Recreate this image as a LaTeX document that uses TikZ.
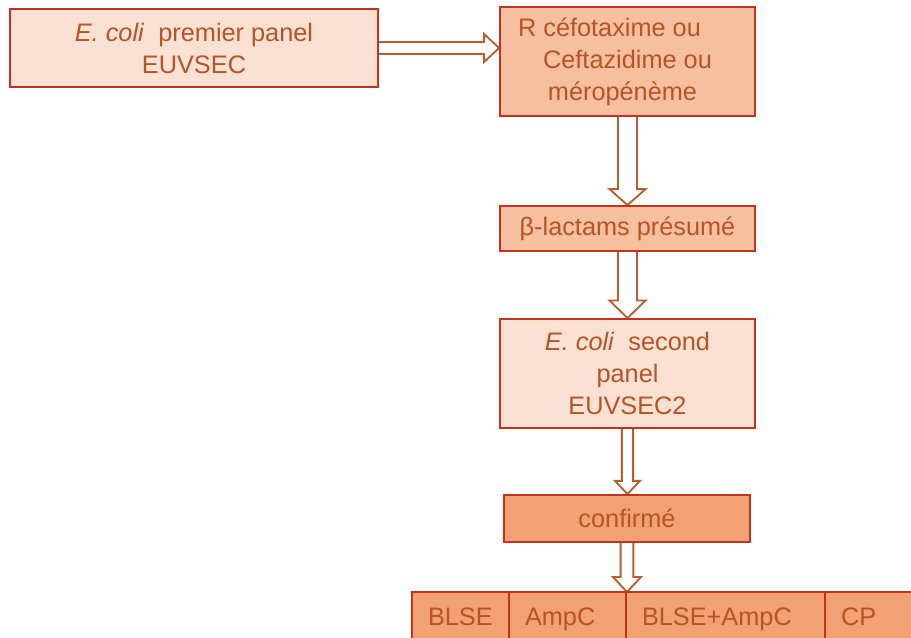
\documentclass[tikz,border=0pt]{standalone}
\usepackage{fontspec}
\setmainfont{Liberation Sans}
\usetikzlibrary{calc,backgrounds}
\definecolor{boxred}{HTML}{C4321F}
\definecolor{textbrown}{HTML}{B65523}
\definecolor{arrowbrown}{HTML}{BE5B2A}
\definecolor{paleorange}{HTML}{FBE0D4}
\definecolor{midorange}{HTML}{F6BFA0}
\definecolor{darkorange}{HTML}{F1A173}

\tikzset{
  panel/.style={draw=boxred, line width=1.3pt, text=textbrown, align=center,
    inner sep=0pt, font=\fontsize{18}{22.8}\selectfont},
  hollow/.style={draw=arrowbrown, fill=white, line width=1.3pt, line join=miter},
  cell/.style={panel, fill=darkorange, minimum height=1.2cm, anchor=north west,
    align=left, inner xsep=0.4cm, outer sep=0pt, text height=12.9pt, text depth=0pt}
}

\newcommand{\flowdown}[5]{%
  \draw[hollow] let \p1=(#1.south), \p2=(#2.north) in
    (\x1-#3,\y1) -- (\x1-#3,\y2+#5) -- (\x1-#4,\y2+#5) -- (\x1,\y2)
    -- (\x1+#4,\y2+#5) -- (\x1+#3,\y2+#5) -- (\x1+#3,\y1);}
\newcommand{\flowright}[5]{%
  \draw[hollow] let \p1=(#1.east), \p2=(#2.west) in
    (\x1,\y1+#3) -- (\x2-#5,\y1+#3) -- (\x2-#5,\y1+#4) -- (\x2,\y1)
    -- (\x2-#5,\y1-#4) -- (\x2-#5,\y1-#3) -- (\x1,\y1-#3);}

\begin{document}
\begin{tikzpicture}
  \useasboundingbox (0,0) rectangle (22.775,-15.925);
  \node[panel, fill=paleorange, minimum width=9.2cm, minimum height=1.95cm] (panel1) at (4.85,-1.2)
    {\textit{E. coli}\ \ premier panel\\EUVSEC};
  \node[panel, fill=midorange, minimum width=6.375cm, minimum height=2.725cm] (resist) at (15.6875,-1.5375)
    {R céfotaxime ou\hspace*{0.9cm}\\Ceftazidime ou\hspace*{0.25cm}\\méropénème\hspace*{0.25cm}};
  \node[panel, fill=midorange, minimum width=6.375cm, minimum height=1.125cm] (presume) at (15.6875,-5.7125)
    {β-lactams présumé};
  \node[panel, fill=paleorange, minimum width=6.375cm, minimum height=2.725cm] (panel2) at (15.6875,-9.3375)
    {\textit{E. coli}\ \ second\\panel\\EUVSEC2};
  \node[panel, fill=darkorange, minimum width=6.15cm, minimum height=1.175cm] (confirm) at (15.675,-12.9625)
    {confirmé};
  \node[cell, text width=1.625cm] (blse) at (10.3,-14.8) {BLSE};
  \node[cell, text width=2.125cm] (ampc) at (blse.north east) {AmpC};
  \node[cell, text width=4.175cm] (both) at (ampc.north east) {BLSE+AmpC};
  \node[cell, text width=2.4cm] (cp) at (both.north east) {CP};
  \begin{scope}[on background layer]
    \flowright{panel1}{resist}{0.15cm}{0.35cm}{0.375cm}
    \flowdown{resist}{presume}{0.2375cm}{0.45cm}{0.4cm}
    \flowdown{presume}{panel2}{0.2375cm}{0.45cm}{0.44cm}
    \flowdown{panel2}{confirm}{0.14cm}{0.31cm}{0.33cm}
    \flowdown{confirm}{both}{0.16cm}{0.35cm}{0.375cm}
  \end{scope}
\end{tikzpicture}
\end{document}
